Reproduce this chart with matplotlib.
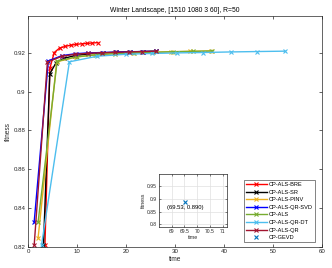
import matplotlib
matplotlib.use("Agg")
import matplotlib.pyplot as plt

plt.rcParams['font.family'] = ['Liberation Sans', 'DejaVu Sans']

title = "Winter Landscape, [1510 1080 3 60], R=50"

names = ["CP-ALS-BRE", "CP-ALS-SR", "CP-ALS-PINV", "CP-ALS-QR-SVD",
         "CP-ALS", "CP-ALS-QR-DT", "CP-ALS-QR", "CP-GEVD"]

t_bre = [3.4, 4.4, 5.3, 6.4, 7.6, 8.7, 9.8, 10.9, 12.0, 13.1, 14.2]
f_bre = [0.8208, 0.9120, 0.9202, 0.9225, 0.9234, 0.9240, 0.9244, 0.9247, 0.9249, 0.9251, 0.9253]

t_sr = [3.1, 4.4, 5.7, 7.3, 9.5, 12.3, 15.2, 18.0, 20.8, 23.5, 26.2]
f_sr = [0.8208, 0.9093, 0.9150, 0.9172, 0.9186, 0.9195, 0.9200, 0.9203, 0.9205, 0.9207, 0.9208]

t_pinv = [2.0, 5.8, 9.7, 13.6, 17.5, 21.4, 25.3, 29.2, 33.1, 37.3]
f_pinv = [0.8246, 0.9154, 0.9178, 0.9190, 0.9197, 0.9201, 0.9204, 0.9206, 0.9208, 0.9210]

t_qrsvd = [1.2, 4.1, 6.9, 9.7, 12.3, 15.2, 17.9, 20.8, 23.4, 26.1]
f_qrsvd = [0.8328, 0.9159, 0.9186, 0.9196, 0.9200, 0.9202, 0.9204, 0.9206, 0.9207, 0.9209]

t_als = [2.0, 5.9, 9.9, 13.8, 17.7, 21.7, 25.6, 29.6, 33.6, 37.6]
f_als = [0.8327, 0.9157, 0.9180, 0.9190, 0.9196, 0.9200, 0.9203, 0.9206, 0.9208, 0.9210]

t_qrdt = [2.7, 8.4, 14.1, 20.0, 25.2, 30.5, 35.8, 41.4, 46.7, 52.5]
f_qrdt = [0.8208, 0.9154, 0.9183, 0.9193, 0.9197, 0.9200, 0.9202, 0.9205, 0.9207, 0.9209]

t_qr = [1.2, 3.9, 6.8, 9.6, 12.3, 15.1, 17.8, 20.6, 23.3, 26.2]
f_qr = [0.8208, 0.9152, 0.9182, 0.9193, 0.9198, 0.9201, 0.9203, 0.9205, 0.9207, 0.9209]

t_gevd = [69.53]
f_gevd = [0.890]

colors = ["#ff0000", "#000000", "#edb120", "#0000ff",
          "#77ac30", "#4dbeee", "#a2142f", "#0072bd"]

series = [(t_bre, f_bre), (t_sr, f_sr), (t_pinv, f_pinv), (t_qrsvd, f_qrsvd),
          (t_als, f_als), (t_qrdt, f_qrdt), (t_qr, f_qr)]

axc = "#262626"
fig = plt.figure(figsize=(3.32, 2.68), dpi=100)
ax = fig.add_axes([0.0853, 0.0795, 0.8837, 0.8605])

for (t, f), c, n in zip(series, colors, names):
    ax.plot(t, f, color=c, lw=1.0, marker='x', ms=2.5, mew=0.8, label=n)
ax.plot(t_gevd, f_gevd, ls='none', color=colors[7], marker='x', ms=2.5, mew=0.8, label=names[7])

ax.set_xlim(0, 60)
ax.set_ylim(0.82, 0.939)
ax.set_xticks([0, 10, 20, 30, 40, 50, 60])
ax.set_yticks([0.82, 0.84, 0.86, 0.88, 0.90, 0.92])
ax.set_yticklabels(["0.82", "0.84", "0.86", "0.88", "0.9", "0.92"])
ax.tick_params(direction='in', length=2.5, width=0.5, labelsize=4.4, colors=axc,
               top=True, right=True, pad=2)
for s in ax.spines.values():
    s.set_linewidth(0.5)
    s.set_color(axc)
ax.set_title(title, fontsize=4.9, color="#000000", pad=3)
ax.set_xlabel("time", fontsize=4.7, color=axc, labelpad=1)
ax.set_ylabel("fitness", fontsize=4.7, color=axc, labelpad=1)

leg = ax.legend(loc='lower right', bbox_to_anchor=(0.977, 0.02), fontsize=4.1,
                frameon=True, fancybox=False, handlelength=3.6, handletextpad=0.4,
                borderpad=0.35, labelspacing=0.45, borderaxespad=0.0)
leg.get_frame().set_edgecolor(axc)
leg.get_frame().set_linewidth(0.5)

# inset
ins = fig.add_axes([0.479, 0.153, 0.205, 0.198])
ins.plot(t_gevd, f_gevd, ls='none', color=colors[7], marker='x', ms=2.5, mew=0.8)
ins.set_xlim(68.5, 71.18)
ins.set_ylim(0.79, 0.999)
ins.set_xticks([69, 69.5, 70, 70.5, 71])
ins.set_xticklabels(["69", "69.5", "70", "70.5", "71"])
ins.set_yticks([0.8, 0.85, 0.9, 0.95])
ins.set_yticklabels(["0.8", "0.85", "0.9", "0.95"])
ins.grid(True, color="#e0e0e0", lw=0.5)
ins.set_axisbelow(True)
ins.tick_params(direction='in', length=1.5, width=0.4, labelsize=3.6, colors=axc,
                top=True, right=True, pad=1.5)
for s in ins.spines.values():
    s.set_linewidth(0.5)
    s.set_color(axc)
ins.set_xlabel("time", fontsize=3.8, color=axc, labelpad=1)
ins.set_ylabel("fitness", fontsize=3.8, color=axc, labelpad=1)
ins.text(t_gevd[0], f_gevd[0] - 0.022, "(%.2f, %.3f)" % (t_gevd[0], f_gevd[0]),
         fontsize=4.2, ha='center', va='center', color="#000000")

fig.savefig("out.png", dpi=100)
